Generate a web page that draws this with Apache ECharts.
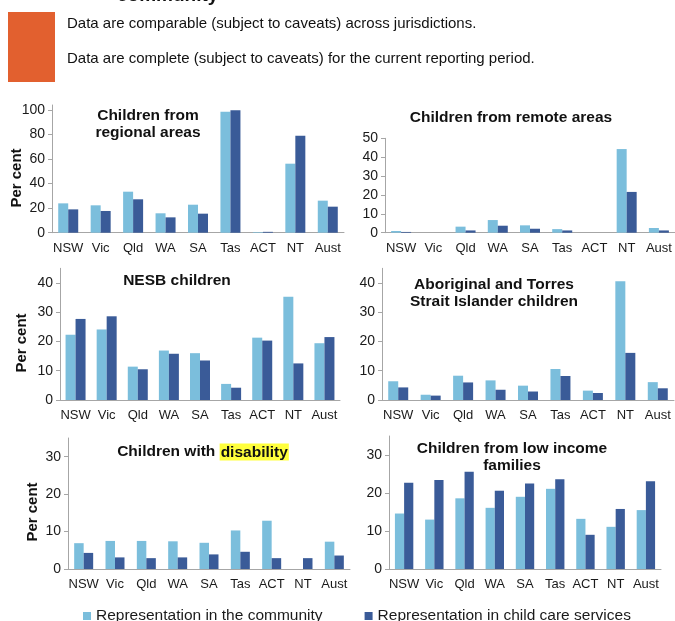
<!DOCTYPE html>
<html>
<head>
<meta charset="utf-8">
<script src="https://cdn.jsdelivr.net/npm/echarts@6/dist/echarts.min.js"></script>
<style>
  html, body { margin: 0; padding: 0; background: #fff; }
  #chart { width: 675px; height: 621px; }
</style>
</head>
<body>
<div id="chart"></div>
<script>
// categories
var states = ['NSW', 'Vic', 'Qld', 'WA', 'SA', 'Tas', 'ACT', 'NT', 'Aust'];

// series values (per cent)
var regionalCommunity = [23.9, 22.3, 33.4, 15.8, 22.8, 98.6, 0.5, 56.2, 26.1];
var regionalChildCare = [19.0, 17.7, 27.2, 12.5, 15.5, 99.7, 0.7, 79.0, 21.2];
var remoteCommunity = [0.9, 0, 3.2, 6.7, 3.9, 1.9, 0, 44.3, 2.5];
var remoteChildCare = [0.4, 0, 1.2, 3.7, 2.1, 1.2, 0, 21.6, 1.2];
var nesbCommunity = [22.3, 24.1, 11.4, 16.9, 16.0, 5.5, 21.3, 35.3, 19.4];
var nesbChildCare = [27.7, 28.6, 10.5, 15.8, 13.5, 4.2, 20.3, 12.5, 21.5];
var indigCommunity = [6.4, 1.8, 8.3, 6.7, 4.9, 10.6, 3.2, 40.6, 6.1];
var indigChildCare = [4.3, 1.5, 6.0, 3.5, 2.9, 8.2, 2.4, 16.1, 4.0];
var disabCommunity = [6.9, 7.5, 7.5, 7.4, 7.0, 10.3, 12.9, null, 7.3];
var disabChildCare = [4.3, 3.1, 2.9, 3.1, 3.9, 4.6, 2.9, 2.9, 3.6];
var lowIncCommunity = [14.6, 13.0, 18.6, 16.1, 19.0, 21.1, 13.2, 11.1, 15.5];
var lowIncChildCare = [22.7, 23.4, 25.6, 20.6, 22.5, 23.6, 9.0, 15.8, 23.1];

// tick labels
var ticksRegional = [0, 20, 40, 60, 80, 100];
var ticksRemote = [0, 10, 20, 30, 40, 50];
var ticks40 = [0, 10, 20, 30, 40];
var ticks30 = [0, 10, 20, 30];

var nameCommunity = 'Representation in the community';
var nameChildCare = 'Representation in child care services';

var LIGHT = '#7BBEDC', DARK = '#3A5B98';
var FONT = '"Liberation Sans", Arial, sans-serif';

var panels = [
  { grid: { left: 52, top: 105, width: 292, height: 127.7 }, max: 104, ticks: ticksRegional, a: regionalCommunity, b: regionalChildCare, bw: 10 },
  { grid: { left: 385, top: 138.3, width: 290, height: 94.4 }, max: 50, ticks: ticksRemote, a: remoteCommunity, b: remoteChildCare, bw: 10 },
  { grid: { left: 60, top: 268.3, width: 280, height: 131.7 }, max: 45, ticks: ticks40, a: nesbCommunity, b: nesbChildCare, bw: 10 },
  { grid: { left: 382, top: 268.3, width: 292, height: 131.7 }, max: 45, ticks: ticks40, a: indigCommunity, b: indigChildCare, bw: 10 },
  { grid: { left: 68, top: 438, width: 282, height: 131 }, max: 35, ticks: ticks30, a: disabCommunity, b: disabChildCare, bw: 9.5 },
  { grid: { left: 389, top: 436, width: 272, height: 133 }, max: 35, ticks: ticks30, a: lowIncCommunity, b: lowIncChildCare, bw: 9.2 }
];

var grids = [], xAxes = [], yAxes = [], series = [];
panels.forEach(function (p, i) {
  grids.push(p.grid);
  xAxes.push({
    type: 'category',
    gridIndex: i,
    data: states,
    axisLine: { lineStyle: { color: '#A6A6A6', width: 1 } },
    axisTick: { show: false },
    axisLabel: { color: '#1a1a1a', fontSize: 13, margin: 9, interval: 0, fontFamily: FONT }
  });
  yAxes.push({
    type: 'value',
    gridIndex: i,
    min: 0,
    max: p.max,
    splitLine: { show: false },
    axisLine: { show: true, lineStyle: { color: '#A6A6A6', width: 1 } },
    axisTick: { show: true, length: 4, lineStyle: { color: '#A6A6A6' }, customValues: p.ticks },
    axisLabel: { color: '#1a1a1a', fontSize: 14, margin: 7, fontFamily: FONT, customValues: p.ticks }
  });
  series.push({
    name: nameCommunity, type: 'bar', xAxisIndex: i, yAxisIndex: i,
    data: p.a, barWidth: p.bw, barGap: '0%', itemStyle: { color: LIGHT }
  });
  series.push({
    name: nameChildCare, type: 'bar', xAxisIndex: i, yAxisIndex: i,
    data: p.b, barWidth: p.bw, barGap: '0%', itemStyle: { color: DARK }
  });
});

function title(x, y, text) {
  return {
    type: 'text', x: x, y: y, z: 10,
    style: {
      text: text, align: 'center', verticalAlign: 'middle',
      font: 'bold 15.5px ' + FONT, fill: '#111', lineHeight: 17
    }
  };
}

function perCent(x, y) {
  return {
    type: 'text', x: x, y: y, rotation: Math.PI / 2, z: 10,
    style: {
      text: 'Per cent', align: 'center', verticalAlign: 'middle',
      font: 'bold 15px ' + FONT, fill: '#111'
    }
  };
}

var option = {
  animation: false,
  textStyle: { fontFamily: FONT },
  grid: grids,
  xAxis: xAxes,
  yAxis: yAxes,
  series: series,
  legend: {
    left: 78,
    top: 603,
    itemWidth: 8,
    itemHeight: 8,
    itemGap: 42,
    icon: 'rect',
    textStyle: { fontSize: 15.5, color: '#1a1a1a' },
    data: [nameCommunity, nameChildCare]
  },
  graphic: [
    // header
    {
      type: 'text', x: 117, y: 5,
      style: { text: 'community', font: 'bold 19px ' + FONT, fill: '#111', verticalAlign: 'bottom' }
    },
    { type: 'rect', shape: { x: 8, y: 12, width: 47, height: 70 }, style: { fill: '#E2602F' } },
    {
      type: 'text', x: 67, y: 24,
      style: { text: 'Data are comparable (subject to caveats) across jurisdictions.', font: '15px ' + FONT, fill: '#111', verticalAlign: 'middle' }
    },
    {
      type: 'text', x: 67, y: 59,
      style: { text: 'Data are complete (subject to caveats) for the current reporting period.', font: '15px ' + FONT, fill: '#111', verticalAlign: 'middle' }
    },
    // panel titles
    title(148, 124, 'Children from\nregional areas'),
    title(511, 118, 'Children from remote areas'),
    title(177, 281, 'NESB children'),
    title(494, 293, 'Aboriginal and Torres\nStrait Islander children'),
    {
      type: 'text', x: 203, y: 452, z: 10,
      style: {
        text: '{a|Children with }{b|disability}',
        align: 'center', verticalAlign: 'middle',
        font: 'bold 15.5px ' + FONT, fill: '#111',
        rich: {
          a: { font: 'bold 15.5px ' + FONT, fill: '#111' },
          b: { font: 'bold 15.5px ' + FONT, fill: '#111', backgroundColor: '#FFFF3C', padding: [1, 1, 0, 1] }
        }
      }
    },
    title(512, 457.5, 'Children from low income\nfamilies'),
    // y names
    perCent(17, 178),
    perCent(22, 343),
    perCent(33, 512)
  ]
};

var myChart = echarts.init(document.getElementById('chart'), null, { renderer: 'canvas' });
myChart.setOption(option);
</script>
</body>
</html>
